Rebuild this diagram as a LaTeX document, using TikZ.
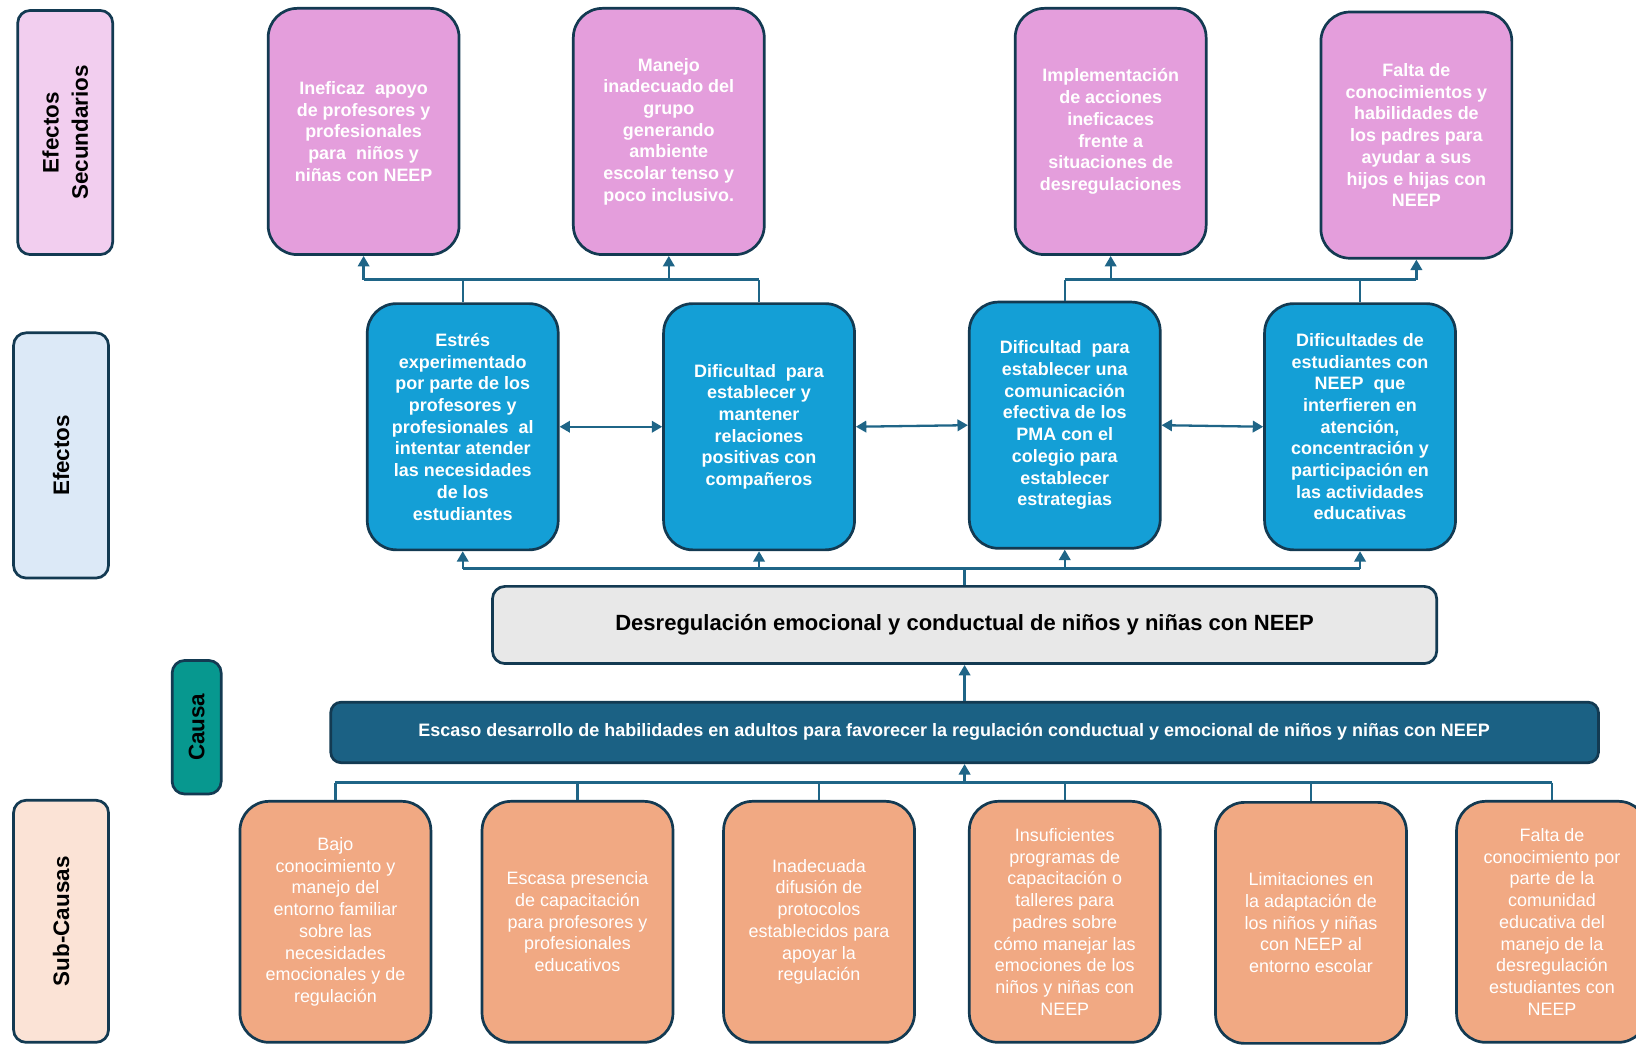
\documentclass[tikz,border=0pt]{standalone}
\usepackage{fontspec}
\setmainfont{Liberation Sans}
\usetikzlibrary{arrows.meta}
\definecolor{navy}{HTML}{133A52}
\definecolor{connc}{HTML}{1F6587}
\definecolor{pinkfill}{HTML}{E49EDC}
\definecolor{pinklab}{HTML}{F2CEEF}
\definecolor{bluefill}{HTML}{149FD6}
\definecolor{bluelab}{HTML}{DCE9F7}
\definecolor{tealfill}{HTML}{07988F}
\definecolor{peachlab}{HTML}{FBE3D6}
\definecolor{orangefill}{HTML}{F1A983}
\definecolor{causefill}{HTML}{1B6184}
\definecolor{grayfill}{HTML}{E8E8E8}
\begin{document}
\begin{tikzpicture}[x=0.5pt,y=-0.5pt,
  base/.style={draw=navy,line width=1.3pt,align=center,inner sep=0pt},
  bigbox/.style={base,rounded corners=14pt,minimum width=91.5pt,minimum height=118pt,text=white},
  pinkbox/.style={bigbox,fill=pinkfill,font=\fontsize{8.6}{10.4}\selectfont\bfseries},
  bluebox/.style={bigbox,fill=bluefill,font=\fontsize{8.6}{10.4}\selectfont\bfseries},
  orangebox/.style={bigbox,fill=orangefill,minimum height=115.5pt,font=\fontsize{8.6}{10.4}\selectfont},
  labbox/.style={base,rounded corners=6pt,minimum width=117pt,minimum height=45.5pt,rotate=90,font=\fontsize{10.75}{14}\selectfont\bfseries},
  conn/.style={draw=connc,line width=1.1pt},
  arr/.style={conn,-{Triangle[length=5pt,width=5.5pt]}},
  arrb/.style={conn,{Triangle[length=5pt,width=5.5pt]}-{Triangle[length=5pt,width=5.5pt]}}
]
\useasboundingbox (0,0) rectangle (1568,1002);

% side labels
\node[labbox,fill=pinklab] (LS) at (62.5,127) {Efectos\\Secundarios};
\node[labbox,fill=bluelab,minimum width=117.5pt] (LE) at (58.5,436.5) {Efectos};
\node[labbox,fill=tealfill,minimum width=64pt,minimum height=23.5pt] (LC) at (188.5,697) {Causa};
\node[labbox,fill=peachlab,minimum width=116pt] (LSC) at (58.5,883) {Sub-Causas};

% secondary effects
\node[pinkbox] (P1) at (348.5,126) {Ineficaz \ apoyo\\de profesores y\\profesionales\\para \ niños y\\niñas con NEEP};
\node[pinkbox] (P2) at (641,126) {Manejo\\inadecuado del\\grupo\\generando\\ambiente\\escolar tenso y\\poco inclusivo.};
\node[pinkbox] (P3) at (1064.5,126) {Implementación\\de acciones\\ineficaces\\frente a\\situaciones de\\desregulaciones};
\node[pinkbox] (P4) at (1357.5,129.5) {Falta de\\conocimientos y\\habilidades de\\los padres para\\ayudar a sus\\hijos e hijas con\\NEEP};

% effects
\node[bluebox] (B1) at (443.5,409) {Estrés\\experimentado\\por parte de los\\profesores y\\profesionales \ al\\intentar atender\\las necesidades\\de los\\estudiantes};
\node[bluebox] (B2) at (727.5,409) {Dificultad \ para\\establecer y\\mantener\\relaciones\\positivas con\\compañeros};
\node[bluebox] (B3) at (1020.5,407.5) {Dificultad \ para\\establecer una\\comunicación\\efectiva de los\\PMA con el\\colegio para\\establecer\\estrategias};
\node[bluebox] (B4) at (1303.5,409) {Dificultades de\\estudiantes con\\NEEP \ que\\interfieren en\\atención,\\concentración y\\participación en\\las actividades\\educativas};

% central problem
\node[base,rounded corners=6pt,fill=grayfill,minimum width=452.5pt,minimum height=37pt,font=\fontsize{10.55}{12}\selectfont\bfseries] (C) at (924.5,599) {Desregulación emocional y conductual de niños y niñas con NEEP};

% cause
\node[base,rounded corners=5pt,fill=causefill,text=white,minimum width=607.5pt,minimum height=29pt,font=\fontsize{8.62}{10}\selectfont\bfseries] (E) at (924.5,702) {\raisebox{2.5pt}{Escaso desarrollo de habilidades en adultos para favorecer la regulación conductual y emocional de niños y niñas con NEEP}\hspace{10pt}};

% sub-causes
\node[orangebox] (O1) at (321.5,883.5) {Bajo\\conocimiento y\\manejo del\\entorno familiar\\sobre las\\necesidades\\emocionales y de\\regulación};
\node[orangebox] (O2) at (553.5,883.5) {Escasa presencia\\de capacitación\\para profesores y\\profesionales\\educativos};
\node[orangebox] (O3) at (785,883.5) {Inadecuada\\difusión de\\protocolos\\establecidos para\\apoyar la\\regulación};
\node[orangebox] (O4) at (1020.5,883.5) {Insuficientes\\programas de\\capacitación o\\talleres para\\padres sobre\\cómo manejar las\\emociones de los\\niños y niñas con\\NEEP};
\node[orangebox] (O5) at (1256.5,884.5) {Limitaciones en\\la adaptación de\\los niños y niñas\\con NEEP al\\entorno escolar};
\node[orangebox] (O6) at (1487.5,883.5) {Falta de\\conocimiento por\\parte de la\\comunidad\\educativa del\\manejo de la\\desregulación\\estudiantes con\\NEEP};

% bus coordinates
\coordinate (busA) at (0,268);
\coordinate (busB) at (0,545);
\coordinate (busC) at (0,750);

% effects -> secondary effects (left)
\draw[conn] (B1.north) -- (B1.north |- busA);
\draw[conn] (B2.north) -- (B2.north |- busA);
\draw[conn] (P1.south |- busA) -- (B2.north |- busA);
\draw[arr] (P1.south |- busA) -- (P1.south);
\draw[arr] (P2.south |- busA) -- (P2.south);
% right
\draw[conn] (B3.north) -- (B3.north |- busA);
\draw[conn] (B4.north) -- (B4.north |- busA);
\draw[conn] (B3.north |- busA) -- (P4.south |- busA);
\draw[arr] (P3.south |- busA) -- (P3.south);
\draw[arr] (P4.south |- busA) -- (P4.south);

% mutual effects
\draw[arrb] (B1.east) -- (B2.west);
\draw[arrb] (B2.east) -- (B3.west);
\draw[arrb] (B3.east) -- (B4.west);

% central -> effects
\draw[conn] (C.north) -- (C.north |- busB);
\draw[conn] (B1.south |- busB) -- (B4.south |- busB);
\draw[arr] (B1.south |- busB) -- (B1.south);
\draw[arr] (B2.south |- busB) -- (B2.south);
\draw[arr] (B3.south |- busB) -- (B3.south);
\draw[arr] (B4.south |- busB) -- (B4.south);

% cause -> central
\draw[arr] (E.north) -- (C.south);

% sub-causes -> cause
\draw[conn] (O1.north |- busC) -- (O6.north |- busC);
\foreach \o in {O1,O2,O3,O4,O5,O6} \draw[conn] (\o.north |- busC) -- (\o.north);
\draw[arr] (E.south |- busC) -- (E.south);
\end{tikzpicture}
\end{document}
